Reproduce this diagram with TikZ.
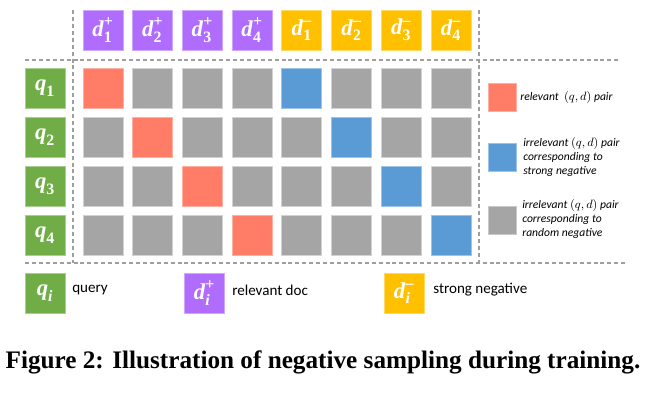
\documentclass[tikz,border=0pt]{standalone}
\usepackage{fontspec}
\usepackage{amsmath}
\setmainfont{Liberation Serif}
\newfontfamily\calib{Carlito}
\definecolor{qgreen}{HTML}{70AD47}
\definecolor{dpurple}{HTML}{B06CFC}
\definecolor{dgold}{HTML}{FFC000}
\definecolor{relred}{HTML}{FF7C67}
\definecolor{rndgray}{HTML}{A5A5A5}
\definecolor{strblue}{HTML}{5B9BD5}
\newcommand\lbl[3]{$\textbf{\textit{#1}}^{\textbf{#3}}_{\textbf{#2}}$}
\newcommand\lbli[2]{$\textbf{\textit{#1}}^{\textbf{#2}}_{\textbf{\textit{i}}}$}
\tikzset{
  sq/.style={minimum size=30pt,inner sep=0pt,line width=0.6pt},
  lblfont/.style={text=white,font=\fontsize{17}{17}\selectfont},
  qbox/.style={sq,fill=qgreen,draw=qgreen!60!white,lblfont},
  pbox/.style={sq,fill=dpurple,draw=dpurple!60!white,lblfont},
  nbox/.style={sq,fill=dgold,draw=dgold!60!white,lblfont},
  redc/.style={sq,fill=relred,draw=relred!60!white},
  grayc/.style={sq,fill=rndgray,draw=rndgray!50!white},
  bluec/.style={sq,fill=strblue,draw=strblue!60!white},
  lsq/.style={minimum size=21pt,inner sep=0pt,line width=0.6pt},
  sep/.style={draw=gray!75,line width=0.8pt,dash pattern=on 3pt off 2.2pt},
  ltext/.style={font=\calib\itshape\fontsize{8.7}{10.5}\selectfont,align=left,anchor=west,inner sep=0pt},
  btext/.style={font=\calib\fontsize{11.3}{13}\selectfont,anchor=west,inner sep=0pt},
}
\begin{document}
\begin{tikzpicture}[x=0.75pt,y=-0.75pt]
\useasboundingbox (0,0) rectangle (648,398);
% separators
\draw[sep] (73,10) -- (73,263);
\draw[sep] (479,10) -- (479,263);
\draw[sep] (25,60) -- (618,60);
\draw[sep] (25,263) -- (625,263);
% header
\foreach \i in {1,2,3,4}{
  \node[pbox] (dp\i) at ({103+49.7*(\i-1)},30) {\lbl{d}{\i}{+}};
  \node[nbox] (dn\i) at ({103+49.7*(\i+3)},30) {\lbl{d}{\i}{–}};
}
% rows
\foreach \j in {1,2,3,4}{
  \node[qbox] (q\j) at (45,{88+49*(\j-1)}) {\lbl{q}{\j}{}};
  \foreach \i in {1,...,8}{
    \pgfmathtruncatemacro{\blu}{\j+4}
    \ifnum\i=\j
      \node[redc] (c\j\i) at ({103+49.7*(\i-1)},{88+49*(\j-1)}) {};
    \else\ifnum\i=\blu
      \node[bluec] (c\j\i) at ({103+49.7*(\i-1)},{88+49*(\j-1)}) {};
    \else
      \node[grayc] (c\j\i) at ({103+49.7*(\i-1)},{88+49*(\j-1)}) {};
    \fi\fi
  }
}
% right legend
\node[lsq,fill=relred,draw=relred!60!white] (lr) at (502,97.5) {};
\node[ltext] (lrt) at (520,98) {relevant\ \ $(q,d)$ pair};
\node[lsq,fill=strblue,draw=strblue!60!white] (lb) at (502,157.5) {};
\node[ltext] (lbt) at (523,157) {irrelevant $(q,d)$ pair\\corresponding to\\strong negative};
\node[lsq,fill=rndgray,draw=rndgray!60!white] (lg) at (502,220) {};
\node[ltext] (lgt) at (522,219) {irrelevant $(q,d)$ pair\\corresponding to\\random negative};
% bottom legend
\node[qbox] (bq) at (45,293) {\lbli{q}{}};
\node[btext] (bqt) at (72,290) {query};
\node[pbox] (bp) at (204.5,293) {\lbli{d}{+}};
\node[btext] (bpt) at (232,290) {relevant doc};
\node[nbox] (bn) at (404,293) {\lbli{d}{–}};
\node[btext] (bnt) at (433,290) {strong negative};
% caption
\node[inner sep=0pt] (cap) at (323,362) {\resizebox{476pt}{!}{\bfseries Figure 2: Illustration of negative sampling during training.}};
\end{tikzpicture}
\end{document}
